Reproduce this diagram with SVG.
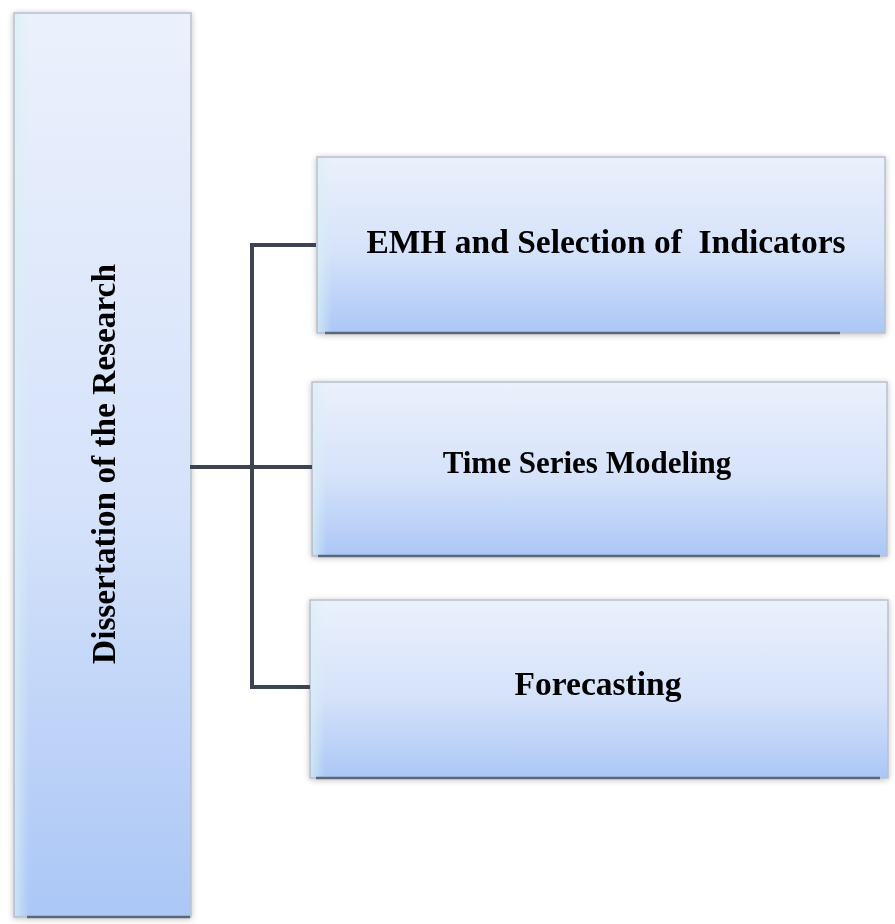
<svg xmlns="http://www.w3.org/2000/svg" width="895" height="924" viewBox="0 0 895 924">
<style>
.box{fill:url(#g);stroke:#b9c0cc;stroke-width:1.5}
.base{stroke:#5d6677;stroke-width:2.5}
.lbl{font-family:"Liberation Serif","Times New Roman",serif;font-weight:bold;font-size:33.5px;fill:#000}
.conn{fill:none;stroke:#3c4454;stroke-width:4}
</style>
<defs>
<linearGradient id="g" x1="0" y1="0" x2="0" y2="1">
<stop offset="0" stop-color="#ebf1fc"/>
<stop offset="0.55" stop-color="#d5e2fa"/>
<stop offset="1" stop-color="#abc7f6"/>
</linearGradient>
<linearGradient id="side" x1="0" y1="0" x2="1" y2="0">
<stop offset="0" stop-color="#d8f0f4" stop-opacity="0.7"/>
<stop offset="1" stop-color="#d8f0f4" stop-opacity="0"/>
</linearGradient>
<filter id="sh" x="-5%" y="-5%" width="110%" height="110%">
<feGaussianBlur in="SourceAlpha" stdDeviation="3"/>
<feOffset dx="0" dy="1" result="b"/>
<feComponentTransfer><feFuncA type="linear" slope="0.25"/></feComponentTransfer>
<feMerge><feMergeNode/><feMergeNode in="SourceGraphic"/></feMerge>
</filter>
</defs>
<rect width="895" height="924" fill="#ffffff"/>
<g id="n0" filter="url(#sh)">
<rect class="box" x="14" y="13" width="177" height="904"/>
<rect x="15" y="14" width="14" height="902" fill="url(#side)"/>
<line class="base" x1="27" y1="917" x2="190" y2="917"/>
<text class="lbl" transform="translate(115,464) rotate(-90)" text-anchor="middle" style="font-size:33.3px">Dissertation of the Research</text>
</g>
<g id="n1" filter="url(#sh)">
<rect class="box" x="317" y="157" width="568" height="176"/>
<rect x="318" y="158" width="14" height="174" fill="url(#side)"/>
<line class="base" x1="325" y1="333" x2="840" y2="333"/>
<text class="lbl" x="606" y="253" text-anchor="middle" xml:space="preserve">EMH and Selection of  Indicators</text>
</g>
<g id="n2" filter="url(#sh)">
<rect class="box" x="312" y="382" width="575" height="174"/>
<rect x="313" y="383" width="14" height="172" fill="url(#side)"/>
<line class="base" x1="318" y1="556" x2="880" y2="556"/>
<text class="lbl" x="587" y="473" text-anchor="middle" style="font-size:31px">Time Series Modeling</text>
</g>
<g id="n3" filter="url(#sh)">
<rect class="box" x="310" y="600" width="578" height="178"/>
<rect x="311" y="601" width="14" height="176" fill="url(#side)"/>
<line class="base" x1="316" y1="778" x2="880" y2="778"/>
<text class="lbl" x="598" y="695" text-anchor="middle">Forecasting</text>
</g>
<g id="connectors">
<path class="conn" d="M190 467 H312"/>
<path class="conn" d="M316 245 H252 V687 H310"/>
</g>
</svg>
